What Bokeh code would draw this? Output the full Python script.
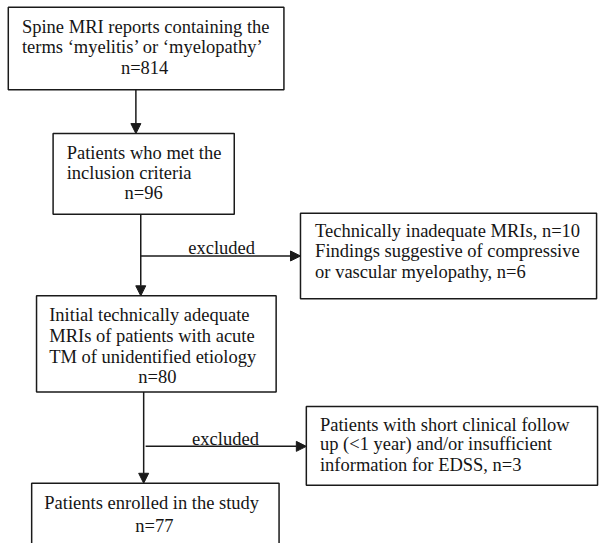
from bokeh.plotting import figure
from bokeh.models import Range1d, Arrow, NormalHead
from bokeh.core.properties import value
from bokeh.embed import file_html
from bokeh.resources import INLINE

# ---- data ----
stage_labels = [
    ["Spine MRI  reports containing the", "terms \u2018myelitis\u2019 or \u2018myelopathy\u2019"],
    ["Patients who met the", "inclusion criteria"],
    ["Initial technically adequate", "MRIs of patients with acute", "TM of unidentified etiology"],
    ["Patients enrolled in the study"],
]
stage_counts = [814, 96, 80, 77]
excluded_labels = [
    ["Technically inadequate MRIs,  n=10", "Findings suggestive of compressive", "or vascular myelopathy, n=6"],
    ["Patients with short clinical follow", "up (<1 year) and/or insufficient", "information for EDSS, n=3"],
]
excluded_word = "excluded"

# ---- layout (coordinates of the 615x559 picture) ----
W, H = 599, 543
p = figure(width=W, height=H, output_backend="svg", toolbar_location=None,
           x_range=Range1d(0, 615), y_range=Range1d(559, 0),
           min_border=0)
p.axis.visible = False
p.grid.visible = False
p.outline_line_color = None
p.background_fill_color = "white"
p.border_fill_color = "white"

stage_boxes = [(8, 7, 291, 92), (54, 137, 240, 220), (37, 304, 283, 403), (32, 497, 286, 580)]
stage_text_x = [22, 68, 50, 45]
stage_line_y = [[27, 48], [157, 178], [324, 345, 367], [517]]
stage_count_xy = [(148, 70), (147, 198), (161, 388), (158, 541)]
excl_boxes = [(308, 219, 612, 307), (314, 418, 613, 499)]
excl_text_x = [323, 328]
excl_line_y = [[237, 258, 279], [437, 457, 478]]

FONT = value("Liberation Serif")
FS = "18.5px"
LC = "#1a1a1a"
TC = "#151515"

for (x0, y0, x1, y1) in stage_boxes + excl_boxes:
    p.quad(left=x0, right=x1, top=y0, bottom=y1, fill_color="white",
           line_color=LC, line_width=1.5)

tx, ty, tt = [], [], []
for i, lines in enumerate(stage_labels):
    for j, t in enumerate(lines):
        tx.append(stage_text_x[i]); ty.append(stage_line_y[i][j]); tt.append(t)
for i, lines in enumerate(excluded_labels):
    for j, t in enumerate(lines):
        tx.append(excl_text_x[i]); ty.append(excl_line_y[i][j]); tt.append(t)
p.text(x=tx, y=ty, text=tt, text_font=FONT, text_font_size=FS,
       text_baseline="middle", text_align="left", text_color=TC)

cx = [c[0] for c in stage_count_xy]
cy = [c[1] for c in stage_count_xy]
ct = ["n=%d" % n for n in stage_counts]
p.text(x=cx, y=cy, text=ct, text_font=FONT, text_font_size=FS,
       text_baseline="middle", text_align="center", text_color=TC)

def arrow(x0, y0, x1, y1):
    p.add_layout(Arrow(end=NormalHead(size=10, fill_color=LC, line_color=LC, line_width=1),
                       x_start=x0, y_start=y0, x_end=x1, y_end=y1,
                       line_color=LC, line_width=1.5))

# vertical arrows between stages
for x, y0, y1 in [(139, 92, 137), (144, 220, 304), (147, 403, 497)]:
    arrow(x, y0, x, y1)

# horizontal "excluded" arrows
for x0, y, x1 in [(144, 263, 308), (149, 459, 314)]:
    arrow(x0, y, x1, y)

p.text(x=[227, 231], y=[255, 451], text=[excluded_word, excluded_word],
       text_font=FONT, text_font_size=FS, text_baseline="middle",
       text_align="center", text_color=TC)

open("out.html", "w").write(file_html(p, INLINE))
